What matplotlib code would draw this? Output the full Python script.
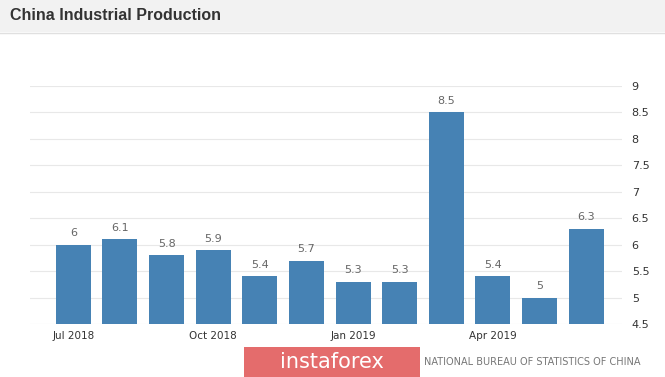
import matplotlib.pyplot as plt
import matplotlib.patches as mpatches

months = ["Jul 2018", "Aug 2018", "Sep 2018", "Oct 2018", "Nov 2018", "Dec 2018",
          "Jan 2019", "Feb 2019", "Mar 2019", "Apr 2019", "May 2019", "Jun 2019"]
values = [6.0, 6.1, 5.8, 5.9, 5.4, 5.7, 5.3, 5.3, 8.5, 5.4, 5.0, 6.3]
value_labels = ["6", "6.1", "5.8", "5.9", "5.4", "5.7", "5.3", "5.3", "8.5", "5.4", "5", "6.3"]
tick_idx = [0, 3, 6, 9]
y_ticks = [4.5, 5, 5.5, 6, 6.5, 7, 7.5, 8, 8.5, 9]
y_tick_labels = ["4.5", "5", "5.5", "6", "6.5", "7", "7.5", "8", "8.5", "9"]

W, H = 665, 377
fig = plt.figure(figsize=(W / 100, H / 100), dpi=100)
fig.patch.set_facecolor("white")

# title bar
fig.patches.append(mpatches.Rectangle((0, 1 - 32 / H), 1, 32 / H, transform=fig.transFigure,
                                      facecolor="#f2f2f2", edgecolor="none", zorder=0))
fig.lines.append(plt.Line2D([0, 1], [1 - 33 / H, 1 - 33 / H], transform=fig.transFigure,
                            color="#e0e0e0", lw=1))
fig.text(10 / W, 1 - 16 / H, "China Industrial Production", fontsize=11.5, fontweight="bold",
         family="Liberation Sans", color="#333333", va="center", ha="left")

left, right = 30 / W, 622 / W
bottom, top = 1 - 324 / H, 1 - 86 / H
ax = fig.add_axes([left, bottom, right - left, top - bottom])

x = list(range(len(values)))
ax.bar(x, [v - 4.5 for v in values], bottom=4.5, width=0.75, color="#4682b4", zorder=3)
for xi, v, lab in zip(x, values, value_labels):
    ax.text(xi, v + 0.12, lab, ha="center", va="bottom", fontsize=8, color="#666666")

ax.set_xlim(-0.93, 11.77)
ax.set_ylim(4.5, 9)
ax.yaxis.tick_right()
ax.set_yticks(y_ticks)
ax.set_yticklabels(y_tick_labels, fontsize=8, color="#333333")
ax.set_xticks(tick_idx)
ax.set_xticklabels([months[i] for i in tick_idx], fontsize=7.5, color="#333333")
ax.tick_params(axis="both", length=0)
ax.tick_params(axis="y", pad=7)
ax.tick_params(axis="x", pad=5)
ax.grid(axis="y", color="#e8e8e8", lw=0.8, zorder=0)
for s in ax.spines.values():
    s.set_visible(False)

# footer
fig.text(640 / W, 1 - 362 / H, "NATIONAL BUREAU OF STATISTICS OF CHINA",
         fontsize=7, color="#777777", ha="right", va="center")
fig.patches.append(mpatches.Rectangle((244 / W, 0), 176 / W, 30 / H, transform=fig.transFigure,
                                      facecolor="#e46c6c", edgecolor="none", zorder=5))
fig.text(332 / W, 15 / H, "instaforex", fontsize=15, color="white", ha="center", va="center",
         zorder=6)

fig.savefig("out.png", dpi=100)
